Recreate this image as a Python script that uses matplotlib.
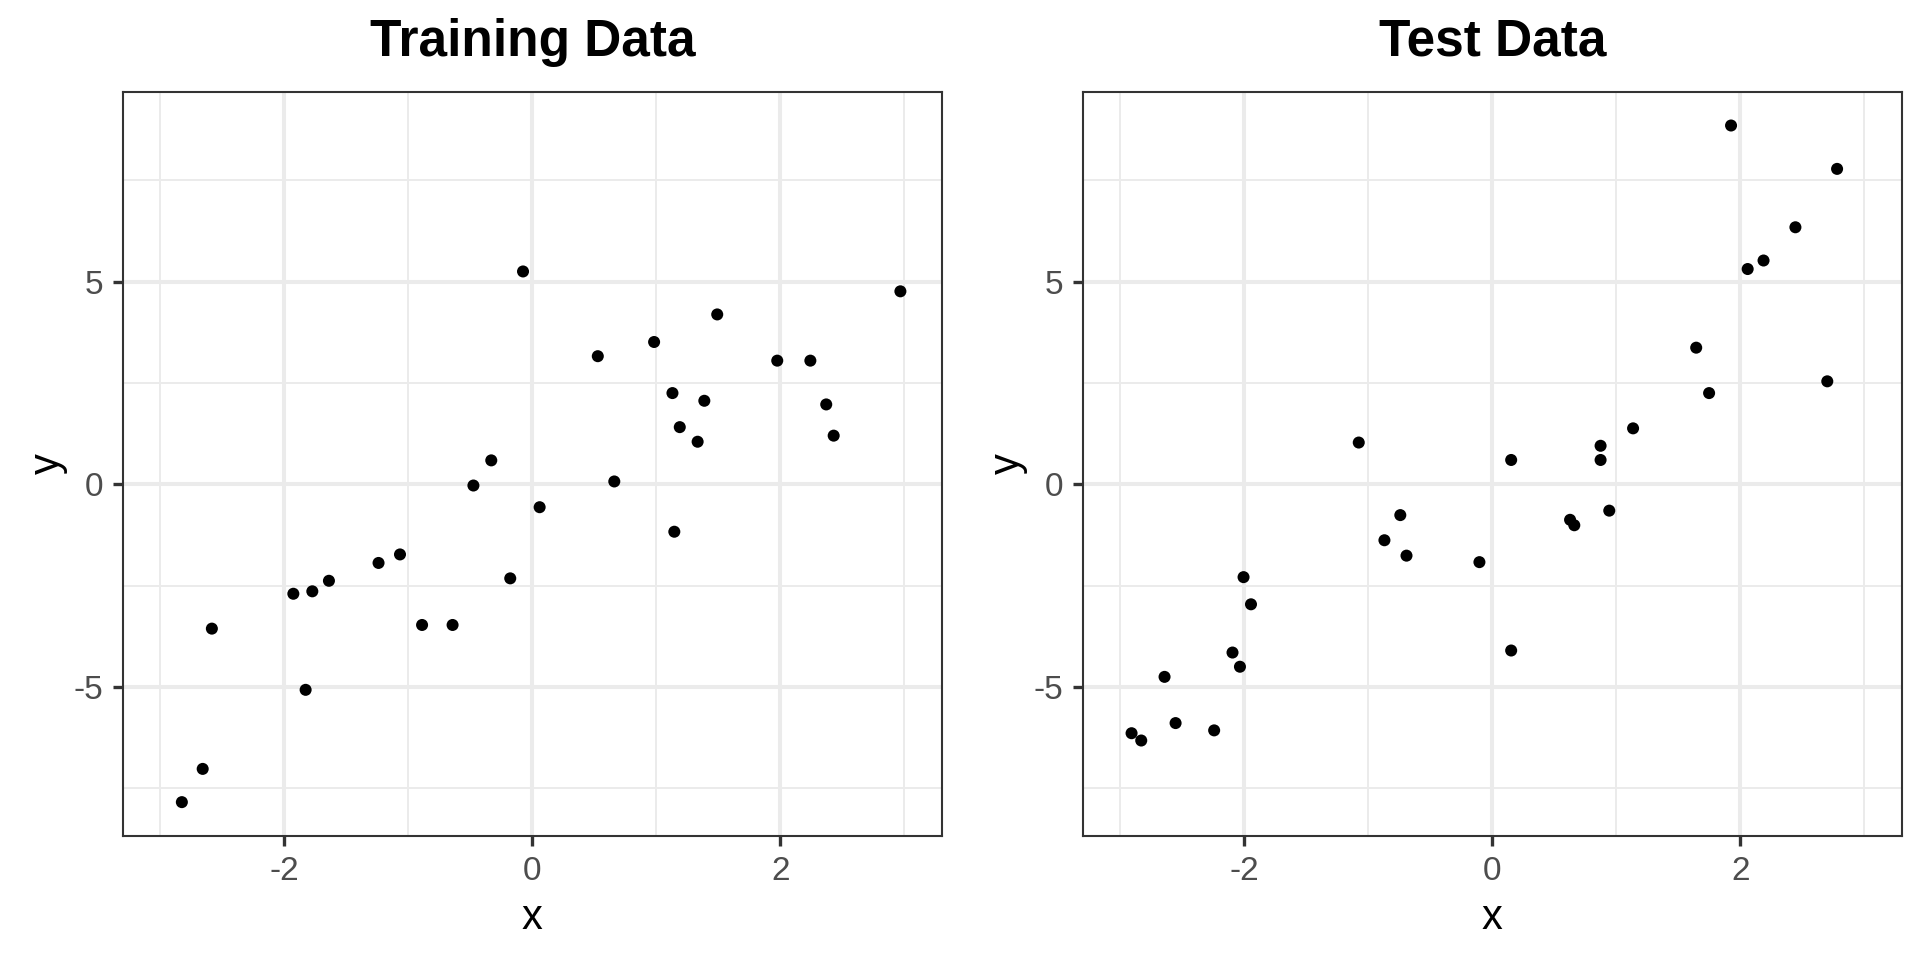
import matplotlib
matplotlib.use("Agg")
import matplotlib.pyplot as plt
import numpy as np

plt.rcParams["font.family"] = ["Liberation Sans", "DejaVu Sans"]
plt.rcParams["axes.unicode_minus"] = False

# training set
train_x = [-0.075, 2.968, 1.491, 0.982, 0.528, 1.975, 2.242, 1.130, 1.387, 2.370,
           1.189, 2.430, 1.333, -0.331, -0.475, 0.661, 0.059, 1.145, -1.240, -1.067,
           -1.640, -1.774, -1.927, -0.178, -2.584, -0.889, -0.643, -1.828, -2.658, -2.826]
train_y = [5.25, 4.76, 4.19, 3.51, 3.16, 3.05, 3.05, 2.25, 2.06, 1.97,
           1.41, 1.20, 1.05, 0.59, -0.03, 0.07, -0.565, -1.17, -1.94, -1.73,
           -2.38, -2.64, -2.70, -2.32, -3.56, -3.47, -3.47, -5.07, -7.02, -7.84]

# test set
test_x = [1.925, 2.780, 2.444, 2.187, 2.059, 1.644, 2.701, 1.748, 1.135, -1.077,
          0.873, 0.152, 0.873, 0.943, 0.627, 0.661, -0.742, -0.870, -0.692, -0.104,
          -2.006, -1.946, -2.095, -2.035, 0.152, -2.643, -2.554, -2.243, -2.909, -2.831]
test_y = [8.85, 7.78, 6.34, 5.52, 5.31, 3.37, 2.54, 2.25, 1.38, 1.03,
          0.95, 0.60, 0.60, -0.65, -0.876, -1.01, -0.76, -1.38, -1.76, -1.92,
          -2.29, -2.96, -4.15, -4.50, -4.10, -4.75, -5.89, -6.07, -6.14, -6.32]

panels = [("Training Data", train_x, train_y), ("Test Data", test_x, test_y)]

all_y = np.array(train_y + test_y)
y_pad = 0.05 * (all_y.max() - all_y.min())
ylim = (all_y.min() - y_pad, all_y.max() + y_pad)
xlim = (-3.3, 3.3)

fig = plt.figure(figsize=(19.2, 9.6), dpi=100)
lefts = [0.0641, 0.5641]
width = 0.4263
bottom, top = 0.1292, 0.9045

for left, (title, xs, ys) in zip(lefts, panels):
    ax = fig.add_axes([left, bottom, width, top - bottom])
    ax.set_xlim(xlim)
    ax.set_ylim(ylim)
    ax.set_xticks([-2, 0, 2])
    ax.set_yticks([-5, 0, 5])
    ax.set_xticks([-3, -1, 1, 3], minor=True)
    ax.set_yticks([-7.5, -2.5, 2.5, 7.5], minor=True)
    ax.grid(True, which="major", color="#EBEBEB", linewidth=2.9)
    ax.grid(True, which="minor", color="#EBEBEB", linewidth=1.4)
    ax.set_axisbelow(True)
    ax.tick_params(which="minor", length=0)
    ax.tick_params(which="major", length=7.2, width=2.4, color="#333333",
                   labelsize=24, labelcolor="#4D4D4D", pad=7)
    for sp in ax.spines.values():
        sp.set_color("#333333")
        sp.set_linewidth(1.5)
    ax.scatter(xs, ys, s=75, color="black", edgecolors="none", zorder=3)
    ax.set_title(title, fontsize=37, fontweight="bold", pad=26)
    ax.set_xlabel("x", fontsize=30, labelpad=8)
    ax.set_ylabel("y", fontsize=30, labelpad=4)

fig.savefig("out.png", dpi=100)
